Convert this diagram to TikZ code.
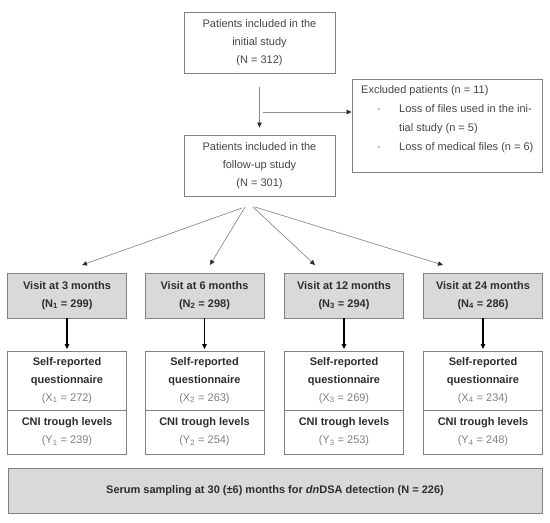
\documentclass[tikz,border=0pt]{standalone}
\usepackage{fontspec}
\setmainfont{Liberation Sans}
\usepackage{xcolor}
\definecolor{fcborder}{RGB}{128,128,128}
\definecolor{fcfill}{RGB}{217,217,217}
\definecolor{fctext}{RGB}{70,70,70}
\definecolor{fcdark}{RGB}{45,45,45}
\definecolor{fcnum}{RGB}{128,128,128}
\definecolor{fcline}{RGB}{140,140,140}
\usepackage{tikz}
\usetikzlibrary{arrows.meta, calc}

\begin{document}
\begin{tikzpicture}[x=1pt, y=-1pt,
    >={Triangle[length=5pt, width=4.5pt, color=fcdark]},
    box/.style={draw=fcborder, line width=0.8pt, fill=white, align=center,
      inner sep=0pt, text=fctext, font=\fontsize{11}{18}\selectfont},
    visitbox/.style={box, fill=fcfill, text=fcdark,
      minimum width=119pt, minimum height=45pt, font=\fontsize{11}{18}\selectfont\bfseries},
    questbox/.style={box, text=fcdark, minimum width=119pt, minimum height=59pt},
    cnibox/.style={box, text=fcdark, minimum width=119pt, minimum height=44pt},
    fanline/.style={->, fcline, line width=0.7pt},
    downline/.style={-{Triangle[length=5pt, width=4.5pt]}, black, line width=1.1pt, shorten >=1.5pt}]

  % Background
  \fill[white] (0,0) rectangle (550,523);

  % --- Study population ---
  \node[box, minimum width=151pt, minimum height=61pt] (init) at (259.5,42.5)
       {Patients included in the\\initial study\\(N = 312)};
  \node[box, minimum width=151pt, minimum height=61pt] (follow) at (259.5,165.5)
       {Patients included in the\\follow-up study\\(N = 301)};
  \draw[->, fcline, line width=0.7pt, shorten <=14pt, shorten >=7pt] (init.south) -- (follow.north);

  % Excluded patients
  \node[box, minimum width=190pt, minimum height=93pt] (excl) at (447,125.5) {};
  \node[anchor=north west, inner sep=0pt, align=left, text=fctext,
        font=\fontsize{11}{19}\selectfont] (excllist) at (361,85)
       {Excluded patients (n = 11)\\
        \hspace*{16pt}\makebox[22pt][l]{\color{fcnum}-}Loss of files used in the ini-\\
        \hspace*{38pt}tial study (n = 5)\\
        \hspace*{16pt}\makebox[22pt][l]{\color{fcnum}-}Loss of medical files (n = 6)};
  \coordinate (branch) at (263,112);
  \draw[->, fcline, line width=0.7pt] (branch) -- (branch -| excl.west);

  % Fan out to the visits
  \coordinate (fan1s) at (242,208);
  \coordinate (fan2s) at (245,207);
  \coordinate (fan3s) at (253,207);
  \coordinate (fan4s) at (255,207);
  \coordinate (fan1e) at (82,265);
  \coordinate (fan2e) at (210,265);
  \coordinate (fan3e) at (315,265);
  \coordinate (fan4e) at (443,265);
  \draw[fanline] (fan1s) -- (fan1e);
  \draw[fanline] (fan2s) -- (fan2e);
  \draw[fanline] (fan3s) -- (fan3e);
  \draw[fanline] (fan4s) -- (fan4e);

  % --- Visit 1: 3 months ---
  \node[visitbox] (visit1) at (67,295.5) {Visit at 3 months\\(N\textsubscript{1} = 299)};
  \node[questbox] (quest1) at (67,380.5)
       {\textbf{Self-reported}\\\textbf{questionnaire}\\{\color{fcnum}(X\textsubscript{1} = 272)}};
  \node[cnibox] (cni1) at (67,432)
       {\textbf{CNI trough levels}\\{\color{fcnum}(Y\textsubscript{1} = 239)}};
  \draw[downline] (visit1.south) -- (quest1.north);

  % --- Visit 2: 6 months ---
  \node[visitbox] (visit2) at (204.5,295.5) {Visit at 6 months\\(N\textsubscript{2} = 298)};
  \node[questbox] (quest2) at (204.5,380.5)
       {\textbf{Self-reported}\\\textbf{questionnaire}\\{\color{fcnum}(X\textsubscript{2} = 263)}};
  \node[cnibox] (cni2) at (204.5,432)
       {\textbf{CNI trough levels}\\{\color{fcnum}(Y\textsubscript{2} = 254)}};
  \draw[downline] (visit2.south) -- (quest2.north);

  % --- Visit 3: 12 months ---
  \node[visitbox] (visit3) at (344,295.5) {Visit at 12 months\\(N\textsubscript{3} = 294)};
  \node[questbox] (quest3) at (344,380.5)
       {\textbf{Self-reported}\\\textbf{questionnaire}\\{\color{fcnum}(X\textsubscript{3} = 269)}};
  \node[cnibox] (cni3) at (344,432)
       {\textbf{CNI trough levels}\\{\color{fcnum}(Y\textsubscript{3} = 253)}};
  \draw[downline] (visit3.south) -- (quest3.north);

  % --- Visit 4: 24 months ---
  \node[visitbox] (visit4) at (483,295.5) {Visit at 24 months\\(N\textsubscript{4} = 286)};
  \node[questbox] (quest4) at (483,380.5)
       {\textbf{Self-reported}\\\textbf{questionnaire}\\{\color{fcnum}(X\textsubscript{4} = 234)}};
  \node[cnibox] (cni4) at (483,432)
       {\textbf{CNI trough levels}\\{\color{fcnum}(Y\textsubscript{4} = 248)}};
  \draw[downline] (visit4.south) -- (quest4.north);

  % Serum sampling
  \node[visitbox, minimum width=534pt, minimum height=45pt] (serum) at (275,490.5)
       {Serum sampling at 30 (±6) months for \textit{dn}DSA detection (N = 226)};
\end{tikzpicture}
\end{document}
